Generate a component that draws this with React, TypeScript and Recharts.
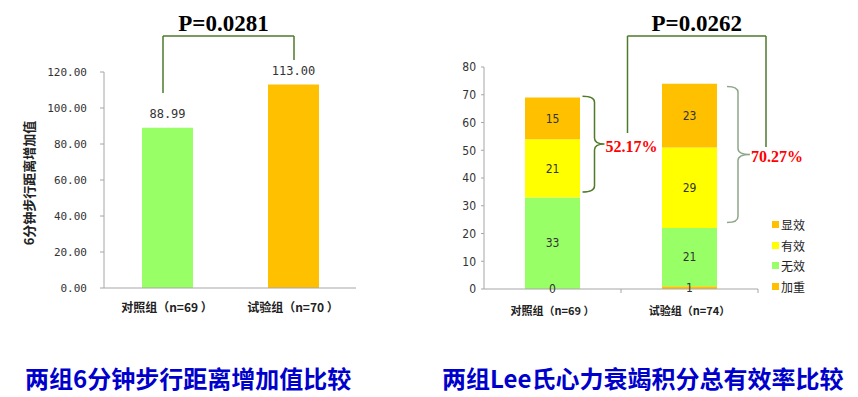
import React from "react";
import {
  Bar,
  BarChart,
  Cell,
  LabelList,
  Legend,
  ReferenceLine,
  XAxis,
  YAxis,
} from "recharts";

// left chart: 6-minute walk distance gain
const walkGroups = ["对照组（n=69 ）", "试验组（n=70 ）"];
const walkGain = [88.99, 113.0];
const walkColors = ["#99FF66", "#FFC000"];
const walkTicks = [0, 20, 40, 60, 80, 100, 120];

// right chart: Lee heart failure score efficacy
const leeGroups = ["对照组（n=69 ）", "试验组（n=74）"];
const leeWorse = [0, 1];
const leeNone = [33, 21];
const leeEffective = [21, 29];
const leeMarked = [15, 23];
const leeTicks = [0, 10, 20, 30, 40, 50, 60, 70, 80];
const leeRates = ["52.17%", "70.27%"];
const braceLow = [35, 24];
const braceHigh = [69.5, 73];

const legendItems = [
  { name: "显效", color: "#FFC000" },
  { name: "有效", color: "#FFFF00" },
  { name: "无效", color: "#99FF66" },
  { name: "加重", color: "#FFC000" },
];

const walkData = walkGroups.map((group, i) => ({ group, gain: walkGain[i] }));
const leeData = leeGroups.map((group, i) => ({
  group,
  worse: leeWorse[i],
  none: leeNone[i],
  effective: leeEffective[i],
  marked: leeMarked[i],
}));

const CJK = "'Noto Sans CJK SC', 'Noto Sans', sans-serif";
const SERIF = "'Liberation Serif', 'DejaVu Serif', serif";
const NARROW = "'Liberation Sans Narrow', 'DejaVu Sans Condensed', sans-serif";
const AXIS = "#A6A6A6";
const BRACKET = "#4E7A2A";

// straight piece of a bracket, optionally shifted sideways and carrying a title
function segment(dx1: number, dx2: number, title?: string, titleDx = 0) {
  return (p: any) => (
    <g>
      <line
        x1={p.x1 + dx1}
        y1={p.y1}
        x2={p.x2 + dx2}
        y2={p.y2}
        stroke={BRACKET}
        strokeWidth={1.5}
      />
      {title && (
        <text
          x={(p.x1 + dx1 + p.x2 + dx2) / 2 + titleDx}
          y={p.y1 - 5}
          textAnchor="middle"
          fontFamily={SERIF}
          fontWeight="bold"
          fontSize={23}
          fill="#000"
        >
          {title}
        </text>
      )}
    </g>
  );
}

function brace(dx: number, w: number, tip: number, color: string, text: string) {
  return (p: any) => {
    const x = p.x1 + dx;
    const top = Math.min(p.y1, p.y2);
    const bot = Math.max(p.y1, p.y2);
    const mid = (top + bot) / 2;
    const r = 6;
    const d = `M${x},${top} Q${x + w},${top} ${x + w},${top + r} L${x + w},${mid - r} Q${x + w},${mid} ${x + w + tip},${mid} Q${x + w},${mid} ${x + w},${mid + r} L${x + w},${bot - r} Q${x + w},${bot} ${x},${bot}`;
    return (
      <g>
        <path d={d} fill="none" stroke={color} strokeWidth={1.5} />
        <text
          x={x + w + tip + 1}
          y={mid + 2}
          dominantBaseline="central"
          fontFamily={SERIF}
          fontWeight="bold"
          fontSize={16}
          fill="#FF0000"
        >
          {text}
        </text>
      </g>
    );
  };
}

function LeeTick(props: any) {
  const { x, y, payload } = props;
  const half = payload && payload.offset ? payload.offset : 68.5;
  return (
    <g>
      <line x1={x + half} y1={y} x2={x + half} y2={y + 4} stroke={AXIS} />
      <text
        x={x}
        y={y + 21}
        textAnchor="middle"
        dominantBaseline="central"
        fontFamily={CJK}
        fontWeight="bold"
        fontSize={11}
        fill="#222"
      >
        {payload.value}
      </text>
    </g>
  );
}

function LeeLegend() {
  return (
    <div style={{ fontFamily: CJK, fontSize: 12, color: "#222" }}>
      {legendItems.map((item) => (
        <div
          key={item.name}
          style={{ display: "flex", alignItems: "center", height: 20.7 }}
        >
          <span
            style={{
              width: 7,
              height: 7,
              background: item.color,
              display: "inline-block",
              marginRight: 2,
            }}
          />
          <span>{item.name}</span>
        </div>
      ))}
    </div>
  );
}

const titleStyle: React.CSSProperties = {
  position: "absolute",
  top: 362,
  fontFamily: CJK,
  fontWeight: "bold",
  fontSize: 24,
  lineHeight: "32px",
  color: "#0000CC",
  whiteSpace: "nowrap",
};

const stackLabel = { fontFamily: NARROW, fontSize: 12, fill: "#333" };

export default function App() {
  return (
    <div
      style={{
        position: "absolute",
        left: 0,
        top: 0,
        width: 858,
        height: 397,
        background: "#fff",
        overflow: "hidden",
      }}
    >
      <div style={{ position: "absolute", left: 0, top: 0 }}>
        <BarChart
          width={430}
          height={330}
          data={walkData}
          margin={{ top: 72, right: 74, bottom: 0, left: 0 }}
        >
          <XAxis
            dataKey="group"
            height={42}
            stroke={AXIS}
            tickLine={false}
            tickSize={0}
            tickMargin={15}
            tick={{ fontFamily: CJK, fontWeight: "bold", fontSize: 12, fill: "#222" }}
          />
          <YAxis
            width={104}
            domain={[0, 120]}
            ticks={walkTicks}
            stroke={AXIS}
            tickSize={4}
            tickMargin={13}
            tickFormatter={(v: number) => v.toFixed(2)}
            tick={{ fontFamily: "'DejaVu Sans Mono', monospace", fontSize: 11, fill: "#333" }}
            label={{
              content: (p: any) => {
                const vb = p.viewBox;
                const cx = 28;
                const cy = vb.y + vb.height / 2 + 3;
                return (
                  <text
                    x={cx}
                    y={cy}
                    transform={`rotate(-90, ${cx}, ${cy})`}
                    textAnchor="middle"
                    dominantBaseline="central"
                    fontFamily={CJK}
                    fontWeight="bold"
                    fontSize={13}
                    fill="#222"
                  >
                    6分钟步行距离增加值
                  </text>
                );
              },
            }}
          />
          <Bar dataKey="gain" barSize={51} isAnimationActive={false}>
            {walkData.map((d, i) => (
              <Cell key={d.group} fill={walkColors[i]} />
            ))}
            <LabelList
              dataKey="gain"
              position="top"
              offset={10}
              formatter={(v: any) => Number(v).toFixed(2)}
              style={{ fontFamily: "'DejaVu Sans Mono', monospace", fontSize: 12, fill: "#333" }}
            />
          </Bar>
          <ReferenceLine
            ifOverflow="visible"
            segment={[
              { x: walkGroups[0], y: 108.3 },
              { x: walkGroups[0], y: 140 },
            ]}
            shape={segment(-4, -4)}
          />
          <ReferenceLine
            ifOverflow="visible"
            segment={[
              { x: walkGroups[0], y: 140 },
              { x: walkGroups[1], y: 140 },
            ]}
            shape={segment(-4, 1, "P=0.0281", -5)}
          />
          <ReferenceLine
            ifOverflow="visible"
            segment={[
              { x: walkGroups[1], y: 126.7 },
              { x: walkGroups[1], y: 140 },
            ]}
            shape={segment(1, 1)}
          />
        </BarChart>
      </div>

      <div style={{ position: "absolute", left: 430, top: 0 }}>
        <BarChart
          width={428}
          height={330}
          data={leeData}
          margin={{ top: 67, right: 100, bottom: 0, left: 0 }}
        >
          <XAxis
            dataKey="group"
            height={41}
            stroke={AXIS}
            tickLine={false}
            tickSize={0}
            tickMargin={0}
            tick={<LeeTick />}
          />
          <YAxis
            width={54}
            domain={[0, 80]}
            ticks={leeTicks}
            stroke={AXIS}
            tickSize={3}
            tickMargin={5}
            tick={{ fontFamily: NARROW, fontSize: 12, fill: "#333" }}
          />
          <Legend
            layout="vertical"
            align="center"
            verticalAlign="middle"
            wrapperStyle={{ left: 342, top: 214, width: 50 }}
            content={() => <LeeLegend />}
          />
          <Bar
            dataKey="worse"
            name="加重"
            stackId="a"
            barSize={55}
            minPointSize={0.01}
            fill="#FFC000"
            isAnimationActive={false}
          >
            <LabelList dataKey="worse" position="center" style={stackLabel} />
          </Bar>
          <Bar dataKey="none" name="无效" stackId="a" barSize={55} fill="#99FF66" isAnimationActive={false}>
            <LabelList dataKey="none" position="center" style={stackLabel} />
          </Bar>
          <Bar dataKey="effective" name="有效" stackId="a" barSize={55} fill="#FFFF00" isAnimationActive={false}>
            <LabelList dataKey="effective" position="center" style={stackLabel} />
          </Bar>
          <Bar dataKey="marked" name="显效" stackId="a" barSize={55} fill="#FFC000" isAnimationActive={false}>
            <LabelList dataKey="marked" position="center" style={stackLabel} />
          </Bar>
          <ReferenceLine
            ifOverflow="visible"
            segment={[
              { x: leeGroups[0], y: braceHigh[0] },
              { x: leeGroups[0], y: braceLow[0] },
            ]}
            shape={brace(30, 12, 10, BRACKET, leeRates[0])}
          />
          <ReferenceLine
            ifOverflow="visible"
            segment={[
              { x: leeGroups[1], y: braceHigh[1] },
              { x: leeGroups[1], y: braceLow[1] },
            ]}
            shape={brace(37.5, 11, 12, "#8EA789", leeRates[1])}
          />
          <ReferenceLine
            ifOverflow="visible"
            segment={[
              { x: leeGroups[0], y: 56.2 },
              { x: leeGroups[0], y: 91.2 },
            ]}
            shape={segment(75, 75)}
          />
          <ReferenceLine
            ifOverflow="visible"
            segment={[
              { x: leeGroups[0], y: 91.2 },
              { x: leeGroups[1], y: 91.2 },
            ]}
            shape={segment(75, 76.5, "P=0.0262")}
          />
          <ReferenceLine
            ifOverflow="visible"
            segment={[
              { x: leeGroups[1], y: 51.2 },
              { x: leeGroups[1], y: 91.2 },
            ]}
            shape={segment(76.5, 76.5)}
          />
        </BarChart>
      </div>

      <div style={{ ...titleStyle, left: 25 }}>两组6分钟步行距离增加值比较</div>
      <div style={{ ...titleStyle, left: 442 }}>
        两组Lee氏心力衰竭积分总有效率比较
      </div>
    </div>
  );
}
